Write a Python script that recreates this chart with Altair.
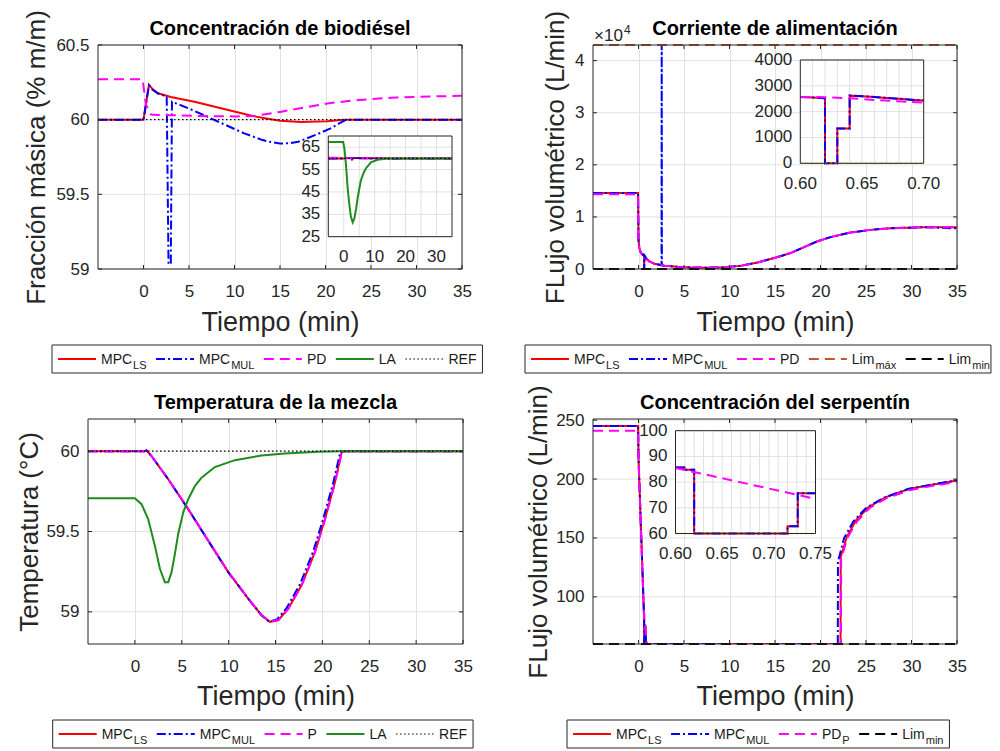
import altair as alt
import pandas as pd

FONT = "Liberation Sans"
AX = "#262626"
GRID = "#e1e1e1"

# ======================= DATA =======================
time_ticks = [0, 5, 10, 15, 20, 25, 30, 35]
time_dom = [-5, 35]

# ---- Panel 1: Concentración de biodiésel ----
bio_ydom = [59, 60.5]
bio_yticks = [59, 59.5, 60, 60.5]
bio_t_ls = [-5, 0, 0.6, 1.0, 1.6, 3.0, 4.5, 5.6, 7.5, 9.3, 11.0, 12.2, 13.5, 15.0, 17.3, 20.2, 22.0, 35]
bio_v_ls = [60.0, 60.0, 60.233, 60.205, 60.177, 60.152, 60.134, 60.12, 60.092, 60.065, 60.04, 60.022, 60.008,
            59.993, 59.985, 59.99, 60.0, 60.0]
bio_t_mul = [-5, 0, 0.6, 1.0, 1.6, 2.55, 2.75, 3.0, 3.13, 3.2, 5.0, 7.0, 9.0, 11.0, 13.0, 14.0, 15.0, 16.0,
             17.0, 19.0, 20.5, 21.5, 22.3, 35]
bio_v_mul = [60.0, 60.0, 60.23, 60.2, 60.175, 60.155, 59.03, 59.04, 60.12, 60.118, 60.075, 60.02, 59.965,
             59.91, 59.865, 59.85, 59.84, 59.842, 59.852, 59.9, 59.94, 59.975, 60.0, 60.0]
bio_t_pd = [-5, -0.1, 0.27, 0.82, 1.5, 3, 6, 10, 12.2, 15, 18, 20.4, 23, 25, 27.7, 30, 35]
bio_v_pd = [60.27, 60.27, 60.10, 60.035, 60.032, 60.03, 60.025, 60.022, 60.025, 60.052, 60.085, 60.11, 60.128,
            60.138, 60.148, 60.153, 60.16]
bio_t_la = [-5, -0.2, 0.2, 0.7, 1.3, 1.8, 2.3, 2.9, 3.4, 4.0, 4.5, 5.5, 6.5, 7.2, 8.8, 10.9, 14.0, 18.0, 35]
bio_v_la = [67.3, 67.3, 64.5, 57.5, 46.0, 39.5, 34.0, 31.4, 33.0, 37.5, 42.5, 50.0, 53.8, 55.6, 58.2, 59.4,
            59.9, 60.0, 60.0]
bio_t_ref = [-5, 35]
bio_v_ref = [60, 60]
bio_in_ydom = [25, 70]
bio_in_xticks = [0, 10, 20, 30]
bio_in_xgrid = [0, 5, 10, 15, 20, 25, 30]
bio_in_yticks = [25, 35, 45, 55, 65]

# ---- Panel 2: Corriente de alimentación ----
ali_ydom = [0, 43000]
ali_yticks = [0, 10000, 20000, 30000, 40000]
ali_t_ls = [-5, -0.05, 0.0, 0.09, 0.27, 0.45, 0.6, 0.61, 0.62, 0.62, 0.63, 0.63, 0.64, 0.64, 0.65, 0.66,
            0.67, 0.68, 0.69, 0.70, 0.85, 1.19, 1.74, 2.84, 4.3, 5.8, 7.6, 9.4, 11.2, 13.1, 15.3, 16.7, 18.2,
            19.6, 21.1, 23.3, 25.5, 27.7, 31.4, 35]
ali_v_ls = [14600, 14600, 5600, 4000, 3060, 2750, 2570, 2550, 2520, 0, 0, 1350, 1350, 2620, 2600, 2570,
            2530, 2500, 2460, 2430, 2000, 1450, 1010, 630, 420, 310, 260, 330, 600, 1250, 2290, 3060, 4200,
            5280, 6120, 7000, 7510, 7840, 8030, 8030]
ali_t_mul = [-5, -0.05, 0.0, 0.09, 0.27, 0.45, 0.6, 0.61, 0.62, 0.62, 0.63, 0.63, 0.64, 0.64, 0.65, 0.66,
             0.67, 0.68, 0.69, 0.70, 0.85, 1.19, 1.74, 2.53, 2.55, 2.57, 2.84, 4.3, 5.8, 7.6, 9.4, 11.2, 13.1,
             15.3, 16.7, 18.2, 19.6, 21.1, 23.3, 25.5, 27.7, 31.4, 35]
ali_v_mul = [14600, 14600, 5600, 4000, 3060, 2750, 2570, 2550, 2520, 0, 0, 1350, 1350, 2620, 2600, 2570,
             2530, 2500, 2460, 2430, 2000, 1450, 1010, 720, 43000, 700, 630, 420, 310, 260, 330, 600, 1250,
             2290, 3060, 4200, 5280, 6120, 7000, 7510, 7840, 8030, 7800]
ali_t_pd = [-5, -0.05, 0.0, 0.09, 0.27, 0.45, 0.6, 0.62, 0.64, 0.66, 0.68, 0.70, 0.85, 1.19, 1.74, 2.84,
            4.3, 5.8, 7.6, 9.4, 11.2, 13.1, 15.3, 16.7, 18.2, 19.6, 21.1, 23.3, 25.5, 27.7, 31.4, 35]
ali_v_pd = [14350, 14350, 5600, 4000, 3060, 2750, 2570, 2560, 2520, 2450, 2400, 2350, 2000, 1450, 1010,
            630, 420, 310, 260, 330, 600, 1250, 2290, 3060, 4200, 5280, 6120, 7000, 7510, 7840, 8030, 8030]
ali_t_lim = [-5, 35]
ali_v_max = [43000, 43000]
ali_v_min = [0, 0]
ali_in_xdom = [0.6, 0.7]
ali_in_ydom = [0, 4000]
ali_in_xticks = [0.60, 0.65, 0.70]
ali_in_xgrid = [0.61, 0.62, 0.63, 0.64, 0.65, 0.66, 0.67, 0.68, 0.69]
ali_in_yticks = [0, 1000, 2000, 3000, 4000]
ali_in_t_lim = [0.6, 0.7]
ali_in_v_lim = [0, 0]

# ---- Panel 3: Temperatura de la mezcla ----
tem_ydom = [58.8, 60.2]
tem_yticks = [59, 59.5, 60]
tem_t_ls = [-5, 1.0, 1.24, 1.78, 3.56, 5.69, 7.82, 9.96, 12.09, 13.51, 14.4, 15.29, 16.36, 17.78, 19.2,
            20.27, 21.33, 22.04, 22.3, 35]
tem_v_ls = [60, 60, 60.004, 59.969, 59.825, 59.639, 59.443, 59.247, 59.082, 58.979, 58.938, 58.948, 59.02,
            59.165, 59.371, 59.577, 59.804, 59.99, 60, 60]
tem_t_mul = [-5, 1.0, 1.24, 1.78, 3.56, 5.69, 7.82, 9.96, 12.09, 13.51, 14.3, 15.15, 16.2, 17.6, 19.02,
             20.1, 21.17, 21.9, 22.2, 35]
tem_v_mul = [60, 60, 60.004, 59.969, 59.825, 59.639, 59.443, 59.247, 59.082, 58.979, 58.94, 58.952, 59.025,
             59.17, 59.375, 59.58, 59.806, 59.99, 60, 60]
tem_t_p = [-5, 1.0, 1.24, 1.78, 3.56, 5.69, 7.82, 9.96, 12.09, 13.51, 14.5, 15.35, 16.4, 17.8, 19.22,
           20.3, 21.36, 22.06, 22.3, 35]
tem_v_p = [60, 60, 60.004, 59.969, 59.826, 59.64, 59.445, 59.249, 59.084, 58.98, 58.94, 58.95, 59.022,
           59.166, 59.372, 59.578, 59.805, 59.99, 60, 60]
tem_t_la = [-5, 0, 0.71, 1.42, 2.13, 2.67, 3.2, 3.56, 3.91, 4.27, 4.62, 5.16, 5.69, 6.4, 7.11, 8.53, 10.67,
            13.51, 16.0, 19.56, 22.04, 35]
tem_v_la = [59.707, 59.707, 59.67, 59.577, 59.412, 59.268, 59.185, 59.185, 59.247, 59.361, 59.485, 59.619,
            59.701, 59.783, 59.835, 59.901, 59.944, 59.973, 59.986, 59.996, 60.0, 60.0]
tem_t_ref = [-5, 35]
tem_v_ref = [60, 60]

# ---- Panel 4: Concentración del serpentín ----
ser_ydom = [60, 251]
ser_yticks = [100, 150, 200, 250]
ser_t_ls = [-5, -0.05, 0.0, 0.3, 0.6, 0.6095, 0.6095, 0.62, 0.62, 0.72, 0.72, 0.731, 0.731, 0.75, 0.76, 0.85,
            22.2, 22.22, 22.9, 23.9, 25.3, 27.2, 29.8, 32.4, 35]
ser_v_ls = [245, 245, 218, 152, 85.7, 85.7, 84.8, 84.8, 60, 60, 62.8, 62.8, 75.7, 75.7, 75.7, 60,
            60, 134, 151, 165, 176.3, 184.7, 191.8, 195.4, 198.8]
ser_t_mul = [-5, -0.05, 0.0, 0.3, 0.6, 0.6095, 0.6095, 0.62, 0.62, 0.72, 0.72, 0.731, 0.731, 0.75, 0.76, 0.85,
             21.9, 21.92, 22.6, 23.6, 25.0, 27.0, 29.6, 32.2, 35]
ser_v_mul = [245, 245, 218, 152, 85.7, 85.7, 84.8, 84.8, 60, 60, 62.8, 62.8, 75.7, 75.7, 75.7, 60,
             60, 130, 150, 164, 175.5, 184.3, 191.5, 195.2, 199]
ser_t_pd = [-5, -0.05, 0.0, 0.3, 0.6, 0.75, 0.93, 22.25, 22.27, 22.95, 24, 25.4, 27.3, 29.9, 32.5, 35]
ser_v_pd = [241, 241, 218, 150, 85.5, 73.5, 60, 60, 132, 150, 164, 175.5, 184, 190.8, 194.5, 197.5]
ser_t_lim = [-5, 35]
ser_v_min = [60, 60]
ser_in_xdom = [0.6, 0.75]
ser_in_ydom = [60, 100]
ser_in_xticks = [0.60, 0.65, 0.70, 0.75]
ser_in_xgrid = [0.61, 0.62, 0.63, 0.64, 0.65, 0.66, 0.67, 0.68, 0.69, 0.70, 0.71, 0.72, 0.73, 0.74]
ser_in_yticks = [60, 70, 80, 90, 100]
ser_in_t_lim = [0.6, 0.75]
ser_in_v_lim = [60, 60]

# ======================= STYLES =======================
S_LS = dict(color="#ff0000", w=2)
S_MUL = dict(color="#0000ff", w=2, dash=[9, 3, 2, 3])
S_PD = dict(color="#ff00ff", w=2, dash=[10, 6])
S_LA = dict(color="#1e8c1e", w=2)
S_REF = dict(color="#000000", w=1.2, dash=[1.5, 2.5])
S_MAX = dict(color="#c0582a", w=2, dash=[10, 6])
S_MIN = dict(color="#000000", w=2, dash=[10, 6])
S_YEL = dict(color="#e6dc00", w=1.5, dash=[2, 3])

dummy = pd.DataFrame({"d": [0]})

CW = {"M": .833, "P": .667, "C": .722, "L": .556, "S": .667, "U": .722, "D": .722, "A": .667, "R": .722,
      "E": .667, "F": .611, "i": .222, "m": .833, "n": .556, "á": .556, "x": .5}


def tw(s, fs):
    return sum(CW.get(c, 0.6) for c in s) * fs


def line(t, v, st, xs, ys, xa=None, ya=None, clip=True, rng=None):
    df = pd.DataFrame({"t": t, "v": v})
    df["i"] = range(len(df))
    if rng is not None:
        df = df[(df.t >= rng[0] - 1e-9) & (df.t <= rng[1] + 1e-9)]
    props = dict(color=st["color"], strokeWidth=st["w"], clip=clip)
    if "dash" in st:
        props["strokeDash"] = st["dash"]
    return alt.Chart(df).mark_line(**props).encode(
        x=alt.X("t:Q", scale=xs, axis=xa),
        y=alt.Y("v:Q", scale=ys, axis=ya),
        order=alt.Order("i:Q"),
    )


def main_axes(W, H, dx, ytitle, yticks, ytitle_x, xtitle_y=61, ylabel_expr=None):
    xa = alt.Axis(values=time_ticks, grid=True, gridColor=GRID, ticks=False, tickSize=0, domain=False,
                  labelFontSize=17, labelColor=AX, labelPadding=27, labelBaseline="alphabetic",
                  labelFlush=False, labelOverlap=False, title="Tiempo (min)", titleFontSize=27,
                  titleFontWeight="normal", titleColor=AX, titleX=dx + W / 2, titleY=xtitle_y,
                  titleAlign="center", titleBaseline="alphabetic")
    ykw = dict(values=yticks, grid=False, ticks=False, tickSize=0, domain=False, offset=-dx,
               labelFontSize=17, labelColor=AX, labelPadding=9, labelFlush=False, labelOverlap=False,
               title=ytitle, titleFontSize=26, titleFontWeight="normal", titleColor=AX, titleX=ytitle_x,
               titleY=H / 2, titleAngle=270, titleAlign="center", titleBaseline="alphabetic")
    if ylabel_expr:
        ykw["labelExpr"] = ylabel_expr
    else:
        ykw["format"] = "~r"
    return xa, alt.Axis(**ykw)


def main_frame(W, H, dx, xs, ys, xa, ya, ydom, yticks, lines):
    box = pd.DataFrame({"x0": [time_dom[0]], "x1": [time_dom[1]], "y0": [ydom[0]], "y1": [ydom[1]]})
    gy = pd.DataFrame({"g": yticks, "lo": time_dom[0], "hi": time_dom[1]})
    out = [alt.Chart(gy).mark_rule(color=GRID, strokeWidth=1).encode(
        y=alt.Y("g:Q", scale=ys, axis=ya), x=alt.X("lo:Q", scale=xs, axis=xa), x2="hi:Q")]
    out += lines
    out.append(alt.Chart(box).mark_rect(fillOpacity=0, stroke=AX, strokeWidth=1).encode(
        x=alt.X("x0:Q", scale=xs, axis=xa), x2="x1:Q", y=alt.Y("y0:Q", scale=ys, axis=ya), y2="y1:Q"))
    tk = pd.DataFrame({"t": time_ticks})
    yk = pd.DataFrame({"v": yticks})
    for y1, y2 in [(H, H - 4), (0, 4)]:
        out.append(alt.Chart(tk).mark_rule(color=AX, strokeWidth=1).encode(
            x=alt.X("t:Q", scale=xs, axis=xa), y=alt.value(y1), y2=alt.value(y2)))
    for x1, x2 in [(dx, dx + 4), (dx + W - 4, dx + W)]:
        out.append(alt.Chart(yk).mark_rule(color=AX, strokeWidth=1).encode(
            y=alt.Y("v:Q", scale=ys, axis=ya), x=alt.value(x1), x2=alt.value(x2)))
    return alt.layer(*out)


def inset(xdom, ydom, xr, yr, xgrid, ygrid, xticks, yticks, xfmt, lines):
    xs = alt.Scale(domain=xdom, range=xr, nice=False, zero=False)
    ys = alt.Scale(domain=ydom, range=yr, nice=False, zero=False)
    box = pd.DataFrame({"x0": [xdom[0]], "x1": [xdom[1]], "y0": [ydom[0]], "y1": [ydom[1]]})
    enc_box = dict(x=alt.X("x0:Q", scale=xs, axis=None), x2="x1:Q",
                   y=alt.Y("y0:Q", scale=ys, axis=None), y2="y1:Q")
    bg = alt.Chart(box).mark_rect(fill="white").encode(**enc_box)
    frame = alt.Chart(box).mark_rect(fillOpacity=0, stroke=AX, strokeWidth=1).encode(**enc_box)
    gx = pd.DataFrame({"g": xgrid, "lo": ydom[0], "hi": ydom[1]})
    gy = pd.DataFrame({"g": ygrid, "lo": xdom[0], "hi": xdom[1]})
    gridx = alt.Chart(gx).mark_rule(color=GRID, strokeWidth=1).encode(
        x=alt.X("g:Q", scale=xs, axis=None), y=alt.Y("lo:Q", scale=ys, axis=None), y2="hi:Q")
    gridy = alt.Chart(gy).mark_rule(color=GRID, strokeWidth=1).encode(
        y=alt.Y("g:Q", scale=ys, axis=None), x=alt.X("lo:Q", scale=xs, axis=None), x2="hi:Q")
    xl = pd.DataFrame({"v": xticks, "y": ydom[0]})
    yl = pd.DataFrame({"v": yticks, "x": xdom[0]})
    xlab = alt.Chart(xl).mark_text(dy=25.5, baseline="alphabetic", align="center", fontSize=17,
                                   color=AX).encode(
        x=alt.X("v:Q", scale=xs, axis=None), y=alt.Y("y:Q", scale=ys, axis=None),
        text=alt.Text("v:Q", format=xfmt))
    ylab = alt.Chart(yl).mark_text(dx=-8, baseline="middle", align="right", fontSize=17, color=AX).encode(
        x=alt.X("x:Q", scale=xs, axis=None), y=alt.Y("v:Q", scale=ys, axis=None),
        text=alt.Text("v:Q", format="d"))
    lay = [bg, gridx, gridy]
    for (t, v, st) in lines:
        lay.append(line(t, v, st, xs, ys, rng=xdom))
    lay += [frame, xlab, ylab]
    return alt.layer(*lay)


def legend(items, x0, ytop, end_gap=6):
    out = []
    cur = x0 + 6
    ents = []
    for lab, sub, st in items:
        l1, l2 = cur, cur + 38
        tx = l2 + 5
        w = tw(lab, 14)
        if sub:
            sx = tx + w + 1
            end = sx + tw(sub, 11)
        else:
            sx = None
            end = tx + w
        ents.append((l1, l2, tx, sx, lab, sub, st))
        cur = end + 9.5
    x1 = cur - 9.5 + end_gap
    out.append(alt.Chart(dummy).mark_rect(fill="white", stroke=AX, strokeWidth=1).encode(
        x=alt.value(x0), x2=alt.value(x1), y=alt.value(ytop), y2=alt.value(ytop + 28)))
    for l1, l2, tx, sx, lab, sub, st in ents:
        props = dict(color=st["color"], strokeWidth=st["w"])
        if "dash" in st:
            props["strokeDash"] = st["dash"]
        out.append(alt.Chart(dummy).mark_rule(**props).encode(
            x=alt.value(l1), x2=alt.value(l2), y=alt.value(ytop + 14)))
        out.append(alt.Chart(dummy).mark_text(text=lab, fontSize=14, color="#1a1a1a", align="left",
                                              baseline="alphabetic").encode(
            x=alt.value(tx), y=alt.value(ytop + 19)))
        if sub:
            out.append(alt.Chart(dummy).mark_text(text=sub, fontSize=11, color="#1a1a1a", align="left",
                                                  baseline="alphabetic").encode(
                x=alt.value(sx), y=alt.value(ytop + 24)))
    return out


def title(text, xc):
    return alt.Chart(dummy).mark_text(text=text, fontSize=20, fontWeight="bold", color="#000000",
                                      align="center", baseline="alphabetic").encode(
        x=alt.value(xc), y=alt.value(-10))


# ======================= PANELS =======================
# Panel 1 (drawn 10 px to the right inside its 374 px cell)
W1, H1, D1 = 364, 224, 10
xs1 = alt.Scale(domain=time_dom, range=[D1, D1 + W1], nice=False, zero=False)
ys1 = alt.Scale(domain=bio_ydom, nice=False, zero=False)
xa1, ya1 = main_axes(W1, H1, D1, "Fracción másica (% m/m)", bio_yticks, -54)
main1 = main_frame(W1, H1, D1, xs1, ys1, xa1, ya1, bio_ydom, bio_yticks, [
    line(bio_t_ls, bio_v_ls, S_LS, xs1, ys1, xa1, ya1),
    line(bio_t_mul, bio_v_mul, S_MUL, xs1, ys1, xa1, ya1),
    line(bio_t_pd, bio_v_pd, S_PD, xs1, ys1, xa1, ya1),
    line(bio_t_ref, bio_v_ref, S_REF, xs1, ys1, xa1, ya1),
])
ins1 = inset(time_dom, bio_in_ydom, [240.3, 364], [191.7, 91], bio_in_xgrid, bio_in_yticks, bio_in_xticks,
             bio_in_yticks, "d",
             [(bio_t_ls, bio_v_ls, S_LS), (bio_t_mul, bio_v_mul, S_MUL), (bio_t_pd, bio_v_pd, S_PD),
              (bio_t_la, bio_v_la, S_LA), (bio_t_ref, bio_v_ref, S_REF)])
leg1 = legend([("MPC", "LS", S_LS), ("MPC", "MUL", S_MUL), ("PD", "", S_PD), ("LA", "", S_LA),
               ("REF", "", S_REF)], -36, H1 + 76)
p1 = alt.layer(main1, ins1, title("Concentración de biodiésel", D1 + W1 / 2), *leg1).resolve_scale(
    x="independent", y="independent").properties(width=W1 + D1, height=H1)

# Panel 2
W2, H2 = 364, 224
xs2 = alt.Scale(domain=time_dom, range=[0, W2], nice=False, zero=False)
ys2 = alt.Scale(domain=ali_ydom, nice=False, zero=False)
xa2, ya2 = main_axes(W2, H2, 0, "FLujo volumétrico (L/min)", ali_yticks, -30,
                     ylabel_expr="datum.value / 10000")
main2 = main_frame(W2, H2, 0, xs2, ys2, xa2, ya2, ali_ydom, ali_yticks, [
    line(ali_t_ls, ali_v_ls, S_LS, xs2, ys2, xa2, ya2),
    line(ali_t_mul, ali_v_mul, S_MUL, xs2, ys2, xa2, ya2),
    line(ali_t_pd, ali_v_pd, S_PD, xs2, ys2, xa2, ya2),
    line(ali_t_lim, ali_v_max, S_MAX, xs2, ys2, xa2, ya2, clip=False),
    line(ali_t_lim, ali_v_min, S_MIN, xs2, ys2, xa2, ya2, clip=False),
])
ins2 = inset(ali_in_xdom, ali_in_ydom, [207.3, 330.7], [118.3, 15], ali_in_xgrid, ali_in_yticks,
             ali_in_xticks, ali_in_yticks, ".2f",
             [(ali_t_ls, ali_v_ls, S_LS), (ali_t_mul, ali_v_mul, S_MUL), (ali_t_pd, ali_v_pd, S_PD),
              (ali_in_t_lim, ali_in_v_lim, S_YEL)])
leg2 = legend([("MPC", "LS", S_LS), ("MPC", "MUL", S_MUL), ("PD", "", S_PD), ("Lim", "máx", S_MAX),
               ("Lim", "min", S_MIN)], -68, H2 + 76, end_gap=1)
exp_base = alt.Chart(dummy).mark_text(text="×10", fontSize=17, color=AX, align="left",
                                      baseline="alphabetic").encode(x=alt.value(1), y=alt.value(-4))
exp_sup = alt.Chart(dummy).mark_text(text="4", fontSize=12, color=AX, align="left",
                                     baseline="alphabetic").encode(x=alt.value(31), y=alt.value(-11))
p2 = alt.layer(main2, ins2, title("Corriente de alimentación", W2 / 2), exp_base, exp_sup,
               *leg2).resolve_scale(x="independent", y="independent").properties(width=W2, height=H2)

# Panel 3
W3, H3 = 375, 225
xs3 = alt.Scale(domain=time_dom, range=[0, W3], nice=False, zero=False)
ys3 = alt.Scale(domain=tem_ydom, nice=False, zero=False)
xa3, ya3 = main_axes(W3, H3, 0, "Temperatura (°C)", tem_yticks, -51, xtitle_y=60)
main3 = main_frame(W3, H3, 0, xs3, ys3, xa3, ya3, tem_ydom, tem_yticks, [
    line(tem_t_ls, tem_v_ls, S_LS, xs3, ys3, xa3, ya3),
    line(tem_t_mul, tem_v_mul, S_MUL, xs3, ys3, xa3, ya3),
    line(tem_t_p, tem_v_p, S_PD, xs3, ys3, xa3, ya3),
    line(tem_t_la, tem_v_la, S_LA, xs3, ys3, xa3, ya3),
    line(tem_t_ref, tem_v_ref, S_REF, xs3, ys3, xa3, ya3),
])
leg3 = legend([("MPC", "LS", S_LS), ("MPC", "MUL", S_MUL), ("P", "", S_PD), ("LA", "", S_LA),
               ("REF", "", S_REF)], -35.3, H3 + 76)
p3 = alt.layer(main3, title("Temperatura de la mezcla", W3 / 2), *leg3).properties(width=W3, height=H3)

# Panel 4
W4, H4 = 364, 225
xs4 = alt.Scale(domain=time_dom, range=[0, W4], nice=False, zero=False)
ys4 = alt.Scale(domain=ser_ydom, nice=False, zero=False)
xa4, ya4 = main_axes(W4, H4, 0, "FLujo volumétrico (L/min)", ser_yticks, -47, xtitle_y=60)
main4 = main_frame(W4, H4, 0, xs4, ys4, xa4, ya4, ser_ydom, ser_yticks, [
    line(ser_t_ls, ser_v_ls, S_LS, xs4, ys4, xa4, ya4),
    line(ser_t_mul, ser_v_mul, S_MUL, xs4, ys4, xa4, ya4),
    line(ser_t_pd, ser_v_pd, S_PD, xs4, ys4, xa4, ya4),
    line(ser_t_lim, ser_v_min, S_MIN, xs4, ys4, xa4, ya4, clip=False),
])
ins4 = inset(ser_in_xdom, ser_in_ydom, [82.5, 222.5], [114.5, 11.7], ser_in_xgrid, ser_in_yticks,
             ser_in_xticks, ser_in_yticks, ".2f",
             [(ser_t_ls, ser_v_ls, S_LS), (ser_t_mul, ser_v_mul, S_MUL), (ser_t_pd, ser_v_pd, S_PD),
              (ser_in_t_lim, ser_in_v_lim, S_YEL)])
leg4 = legend([("MPC", "LS", S_LS), ("MPC", "MUL", S_MUL), ("PD", "P", S_PD), ("Lim", "min", S_MIN)],
              -26, H4 + 76)
p4 = alt.layer(main4, ins4, title("Concentración del serpentín", W4 / 2), *leg4).resolve_scale(
    x="independent", y="independent").properties(width=W4, height=H4)

chart = alt.concat(p1, p2, p3, p4, columns=2, spacing={"row": 150, "column": 130}, bounds="flush").properties(
    padding={"left": 7, "top": 1, "right": 0, "bottom": 0}
).configure(font=FONT, background="white").configure_view(strokeWidth=0)

chart.save("out.html", embed_options={"renderer": "svg", "actions": False})
